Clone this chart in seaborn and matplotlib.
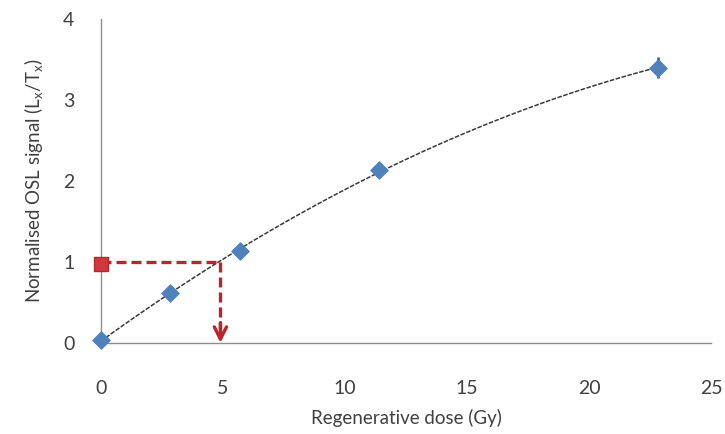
import numpy as np
import pandas as pd
import matplotlib
matplotlib.use('Agg')
import matplotlib.pyplot as plt
import seaborn as sns

# regenerative doses and normalised signals
dose = [0, 2.85, 5.7, 11.4, 22.8]
signal = [0.03, 0.62, 1.13, 2.13, 3.40]
signal_err = [0.02, 0.03, 0.03, 0.08, 0.13]

# natural signal and the equivalent dose
natural_signal = 0.98
equiv_dose = 4.9
equiv_level = 1.0

xticks = [0, 5, 10, 15, 20, 25]
yticks = [0, 1, 2, 3, 4]

df = pd.DataFrame({'dose': dose, 'signal': signal})

sns.set_style('white')
plt.rcParams['font.family'] = ['Lato', 'DejaVu Sans']

fig = plt.figure(figsize=(7.25, 4.34), dpi=100)
ax = fig.add_axes([0.139, 0.21, 0.842, 0.746])

# fitted growth curve
sns.regplot(x='dose', y='signal', data=df, order=2, ci=None, scatter=False, ax=ax,
            line_kws=dict(color='#3a3a3a', lw=1.1, ls=(0, (3, 1))))

# red dashed guide lines
red = '#B8252B'
ax.plot([0, equiv_dose], [equiv_level, equiv_level], color=red, lw=2.4, ls=(0, (3, 1.5)), zorder=3)
ax.plot([equiv_dose, equiv_dose], [equiv_level, 0.05], color=red, lw=2.4, ls=(0, (3, 1.5)), zorder=3)
ax.annotate('', xy=(equiv_dose, 0.0), xytext=(equiv_dose, 0.25),
            arrowprops=dict(arrowstyle='->', color=red, lw=2.4, mutation_scale=22,
                            shrinkA=0, shrinkB=0), zorder=4, annotation_clip=False)

# data points with error bars
ax.errorbar(dose, signal, yerr=signal_err, fmt='none', ecolor='#3566A5', elinewidth=2,
            capsize=0, zorder=4)
sns.scatterplot(x='dose', y='signal', data=df, marker='D', s=80, color='#4F81BD',
                edgecolor='#4F81BD', ax=ax, zorder=5, clip_on=False)
ax.scatter([0], [natural_signal], marker='s', s=110, color='#D0383E', edgecolor='#B02A30',
           zorder=6, clip_on=False)

ax.set_xlim(0, 25)
ax.set_ylim(0, 4)
ax.set_xticks(xticks)
ax.set_yticks(yticks)
sns.despine(ax=ax)
for s in ['left', 'bottom']:
    ax.spines[s].set_color('#8c8c8c')
    ax.spines[s].set_linewidth(1.0)
ax.tick_params(axis='both', colors='#8c8c8c', labelcolor='#404040', labelsize=14,
               length=5, width=1, direction='out')
ax.tick_params(axis='x', pad=22)
ax.tick_params(axis='y', pad=14)

ax.set_xlabel('Regenerative dose (Gy)', fontsize=13.5, color='#404040', labelpad=8)
ax.set_ylabel('Normalised OSL signal (L$_\\mathregular{x}$/T$_\\mathregular{x}$)', fontsize=13.5,
              color='#404040', labelpad=12)

fig.savefig('out.png', dpi=100)
